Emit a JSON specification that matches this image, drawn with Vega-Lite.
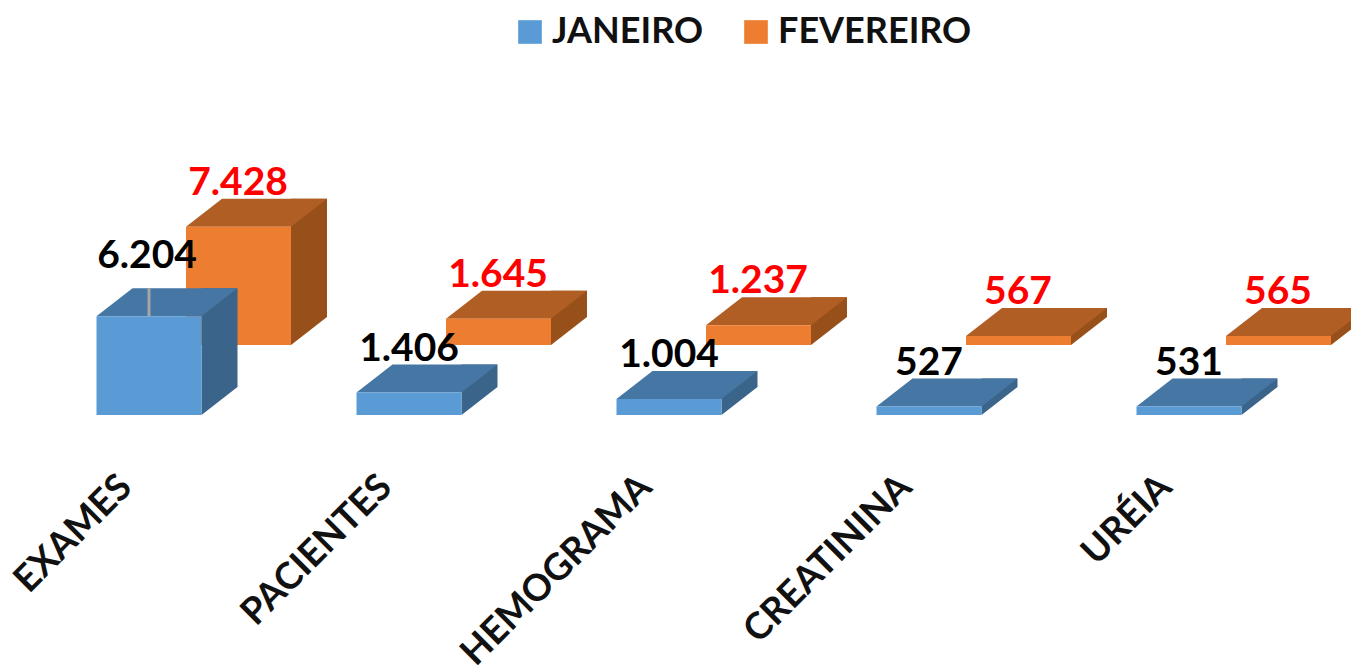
{
"$schema":"https://vega.github.io/schema/vega-lite/v6.json",
"width":1351,"height":414,"autosize":"none",
"padding":{"left":0,"top":0,"right":0,"bottom":257},
"background":"white",
"config":{"view":{"stroke":null},"locale":{"number":{"decimal":",","thousands":".","grouping":[3],"currency":["R$",""]}}},
"data":{"values":[
{"exame":"EXAMES","mes":"JANEIRO","valor":6204},{"exame":"PACIENTES","mes":"JANEIRO","valor":1406},{"exame":"HEMOGRAMA","mes":"JANEIRO","valor":1004},{"exame":"CREATININA","mes":"JANEIRO","valor":527},{"exame":"URÉIA","mes":"JANEIRO","valor":531},
{"exame":"EXAMES","mes":"FEVEREIRO","valor":7428},{"exame":"PACIENTES","mes":"FEVEREIRO","valor":1645},{"exame":"HEMOGRAMA","mes":"FEVEREIRO","valor":1237},{"exame":"CREATININA","mes":"FEVEREIRO","valor":567},{"exame":"URÉIA","mes":"FEVEREIRO","valor":565}
]},
"encoding":{
"x":{"field":"exame","type":"nominal","sort":null,"scale":{"type":"band","range":[64,1364],"paddingInner":0,"paddingOuter":0},
"axis":{"title":null,"domain":false,"ticks":false,"labelAngle":-45,"labelAlign":"right","labelBaseline":"middle","labelPadding":67,"labelOffset":-68,"labelFont":"Lato","labelFontWeight":700,"labelFontSize":37,"labelColor":"#111111","labelOverlap":false,"labelBound":false,"labelFlush":false,"labelLimit":0,"grid":false}},
"y":{"field":"valor","type":"quantitative","stack":null,"scale":{"domain":[0,26000],"range":[415,1]},"axis":null}
},
"layer":[
{"transform":[{"filter":"datum.mes=='FEVEREIRO'"}],"mark":{"type":"bar","width":36,"xOffset":115,"yOffset":-98,"y2Offset":-98,"color":"#975019"},"encoding":{"y2":{"datum":0}}},
{"transform":[{"filter":"datum.mes=='FEVEREIRO'"}],"mark":{"type":"point","filled":true,"opacity":1,"size":19881,"xOffset":44.5,"yOffset":-70,"color":"#975019","shape":"M0.745 0L1.255 -0.397L0.745 -0.397Z"},"encoding":{"y":{"datum":0}}},
{"transform":[{"filter":"datum.mes=='FEVEREIRO'"}],"mark":{"type":"point","filled":true,"opacity":1,"size":19881,"xOffset":44.5,"yOffset":-70,"color":"#B05E23","shape":"M-0.745 0L0.745 0L1.255 -0.397L-0.234 -0.397Z"}},
{"transform":[{"filter":"datum.mes=='FEVEREIRO'"}],"mark":{"type":"bar","width":105,"xOffset":44.5,"yOffset":-70,"y2Offset":-70},"encoding":{"y2":{"datum":0},"color":{"field":"mes","type":"nominal","scale":{"domain":["JANEIRO","FEVEREIRO"],"range":["#5B9BD5","#ED7D31"]},"legend":{"title":null,"orient":"none","legendX":512,"legendY":14,"direction":"horizontal","columns":2,"symbolType":"square","symbolSize":560,"symbolStrokeWidth":0,"labelFont":"Lato","labelFontWeight":700,"labelFontSize":36,"labelColor":"#111111","labelOffset":4,"labelLimit":0,"columnPadding":34}}}},
{"transform":[{"filter":"datum.mes=='JANEIRO'"}],"mark":{"type":"bar","width":36,"xOffset":25.5,"yOffset":-28,"y2Offset":-28,"color":"#3A6489"},"encoding":{"y2":{"datum":0}}},
{"transform":[{"filter":"datum.mes=='JANEIRO'"}],"mark":{"type":"point","filled":true,"opacity":1,"size":19881,"xOffset":-45,"color":"#3A6489","shape":"M0.745 0L1.255 -0.397L0.745 -0.397Z"},"encoding":{"y":{"datum":0}}},
{"transform":[{"filter":"datum.mes=='JANEIRO'"}],"mark":{"type":"point","filled":true,"opacity":1,"size":19881,"xOffset":-45,"color":"#4576A4","shape":"M-0.745 0L0.745 0L1.255 -0.397L-0.234 -0.397Z"}},
{"transform":[{"filter":"datum.mes=='JANEIRO'"}],"mark":{"type":"bar","width":105,"xOffset":-45},"encoding":{"y2":{"datum":0},"color":{"field":"mes","type":"nominal"}}},
{"transform":[{"filter":"datum.mes=='JANEIRO' && datum.valor>6000"}],"mark":{"type":"rule","color":"#A6A6A6","strokeWidth":3,"xOffset":-45,"yOffset":-28,"y2Offset":0},"encoding":{"y2":{"field":"valor"}}},
{"transform":[{"filter":"datum.mes=='JANEIRO' && datum.valor<6000"}],"mark":{"type":"text","font":"Lato","fontWeight":700,"fontSize":39,"color":"#000000","baseline":"alphabetic","xOffset":-45,"yOffset":-32},"encoding":{"text":{"field":"valor","type":"quantitative","format":",.0f"}}},
{"transform":[{"filter":"datum.mes=='JANEIRO' && datum.valor>6000"}],"mark":{"type":"text","font":"Lato","fontWeight":700,"fontSize":39,"color":"#000000","baseline":"alphabetic","xOffset":-47,"yOffset":-48},"encoding":{"text":{"field":"valor","type":"quantitative","format":",.0f"}}},
{"transform":[{"filter":"datum.mes=='FEVEREIRO'"}],"mark":{"type":"text","font":"Lato","fontWeight":700,"fontSize":39,"color":"#FF0000","baseline":"alphabetic","xOffset":44,"yOffset":-102},"encoding":{"text":{"field":"valor","type":"quantitative","format":",.0f"}}}
]
}
